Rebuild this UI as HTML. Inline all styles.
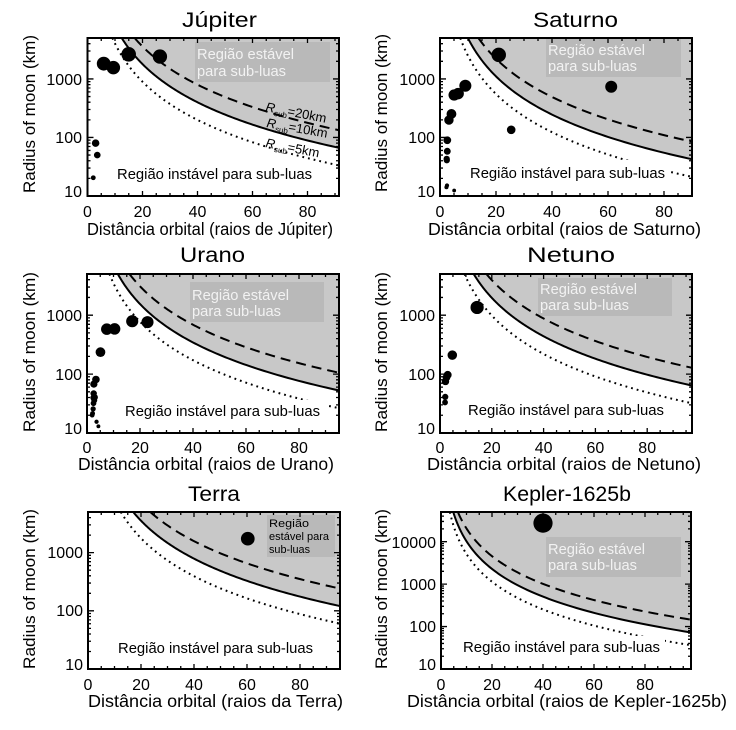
<!DOCTYPE html>
<html><head><meta charset="utf-8">
<style>
html,body{margin:0;padding:0;background:#fff;}
svg{display:block;}
text{font-family:"Liberation Sans",Arial,sans-serif;fill:#000;}
.bx{fill:#f2f2f2;font-size:15px;}
.lo{font-size:15px;}
.tk{font-size:16px;}
.tt{font-size:21px;}
.xl{font-size:17.5px;}
.yl{font-size:17px;}
</style></head>
<body>
<svg id="s" width="736" height="730" viewBox="0 0 736 730" xmlns="http://www.w3.org/2000/svg">
<rect width="736" height="730" fill="#fff"/>
<defs id="defs"></defs>

<!-- ===== Panel 0: Jupiter ===== -->
<g id="u0"></g>
<rect x="195" y="42" width="135" height="40" fill="#b9b9b9"/>
<text class="bx" x="197" y="59" textLength="97" lengthAdjust="spacingAndGlyphs">Região estável</text>
<text class="bx" x="197" y="76" textLength="89" lengthAdjust="spacingAndGlyphs">para sub-luas</text>
<g id="c0"></g>
<rect x="113" y="164" width="204" height="21" fill="#fff"/>
<text class="lo" x="117" y="179" textLength="195" lengthAdjust="spacingAndGlyphs">Região instável para sub-luas</text>
<text font-size="13" transform="translate(265,111) rotate(11)"><tspan font-style="italic">R</tspan><tspan font-size="8" dy="3">sub</tspan><tspan dy="-3">=20km</tspan></text>
<text font-size="13" transform="translate(266,127) rotate(10)"><tspan font-style="italic">R</tspan><tspan font-size="8" dy="3">sub</tspan><tspan dy="-3">=10km</tspan></text>
<text font-size="13" transform="translate(265,147) rotate(11)"><tspan font-style="italic">R</tspan><tspan font-size="8" dy="3">sub</tspan><tspan dy="-3">=5km</tspan></text>
<g id="f0"></g>
<text class="tk" x="82" y="85" text-anchor="end">1000</text>
<text class="tk" x="82" y="143" text-anchor="end">100</text>
<text class="tk" x="82" y="197" text-anchor="end">10</text>
<text class="tk" x="87.5" y="217" text-anchor="middle">0</text>
<text class="tk" x="142.5" y="217" text-anchor="middle">20</text>
<text class="tk" x="197.5" y="217" text-anchor="middle">40</text>
<text class="tk" x="252.5" y="217" text-anchor="middle">60</text>
<text class="tk" x="307.5" y="217" text-anchor="middle">80</text>
<text class="tt" x="182" y="27" textLength="75" lengthAdjust="spacingAndGlyphs">Júpiter</text>
<text class="yl" transform="translate(35,114) rotate(-90)" text-anchor="middle" textLength="158" lengthAdjust="spacingAndGlyphs">Radius of moon (km)</text>
<text class="xl" x="87" y="235" textLength="246" lengthAdjust="spacingAndGlyphs">Distância orbital (raios de Júpiter)</text>

<!-- ===== Panel 1: Saturno ===== -->
<g id="u1"></g>
<rect x="546" y="39" width="135" height="38" fill="#b9b9b9"/>
<text class="bx" x="548" y="55" textLength="97" lengthAdjust="spacingAndGlyphs">Região estável</text>
<text class="bx" x="548" y="71" textLength="89" lengthAdjust="spacingAndGlyphs">para sub-luas</text>
<g id="c1"></g>
<rect x="466" y="160" width="202" height="24" fill="#fff"/>
<text class="lo" x="470" y="178" textLength="195" lengthAdjust="spacingAndGlyphs">Região instável para sub-luas</text>
<g id="f1"></g>
<text class="tk" x="435" y="85" text-anchor="end">1000</text>
<text class="tk" x="435" y="143" text-anchor="end">100</text>
<text class="tk" x="435" y="197" text-anchor="end">10</text>
<text class="tk" x="440" y="217" text-anchor="middle">0</text>
<text class="tk" x="496" y="217" text-anchor="middle">20</text>
<text class="tk" x="552" y="217" text-anchor="middle">40</text>
<text class="tk" x="608" y="217" text-anchor="middle">60</text>
<text class="tk" x="664" y="217" text-anchor="middle">80</text>
<text class="tt" x="533" y="27" textLength="85" lengthAdjust="spacingAndGlyphs">Saturno</text>
<text class="yl" transform="translate(387,113) rotate(-90)" text-anchor="middle" textLength="158" lengthAdjust="spacingAndGlyphs">Radius of moon (km)</text>
<text class="xl" x="428" y="235" textLength="273" lengthAdjust="spacingAndGlyphs">Distância orbital (raios de Saturno)</text>

<!-- ===== Panel 2: Urano ===== -->
<g id="u2"></g>
<rect x="190" y="282" width="134" height="40" fill="#b9b9b9"/>
<text class="bx" x="192" y="300" textLength="97" lengthAdjust="spacingAndGlyphs">Região estável</text>
<text class="bx" x="192" y="316" textLength="89" lengthAdjust="spacingAndGlyphs">para sub-luas</text>
<g id="c2"></g>
<rect x="121" y="400" width="208" height="22" fill="#fff"/>
<text class="lo" x="125" y="416" textLength="195" lengthAdjust="spacingAndGlyphs">Região instável para sub-luas</text>
<g id="f2"></g>
<text class="tk" x="82" y="321" text-anchor="end">1000</text>
<text class="tk" x="82" y="380" text-anchor="end">100</text>
<text class="tk" x="82" y="434" text-anchor="end">10</text>
<text class="tk" x="87" y="453" text-anchor="middle">0</text>
<text class="tk" x="140" y="453" text-anchor="middle">20</text>
<text class="tk" x="193" y="453" text-anchor="middle">40</text>
<text class="tk" x="246" y="453" text-anchor="middle">60</text>
<text class="tk" x="299" y="453" text-anchor="middle">80</text>
<text class="tt" x="180" y="262" textLength="65" lengthAdjust="spacingAndGlyphs">Urano</text>
<text class="yl" transform="translate(35,352) rotate(-90)" text-anchor="middle" textLength="160" lengthAdjust="spacingAndGlyphs">Radius of moon (km)</text>
<text class="xl" x="78" y="470" textLength="256" lengthAdjust="spacingAndGlyphs">Distância orbital (raios de Urano)</text>

<!-- ===== Panel 3: Netuno ===== -->
<g id="u3"></g>
<rect x="538" y="278" width="134" height="38" fill="#b9b9b9"/>
<text class="bx" x="540" y="294" textLength="97" lengthAdjust="spacingAndGlyphs">Região estável</text>
<text class="bx" x="540" y="310" textLength="89" lengthAdjust="spacingAndGlyphs">para sub-luas</text>
<g id="c3"></g>
<rect x="464" y="399" width="206" height="22" fill="#fff"/>
<text class="lo" x="468" y="415" textLength="196" lengthAdjust="spacingAndGlyphs">Região instável para sub-luas</text>
<g id="f3"></g>
<text class="tk" x="435" y="321" text-anchor="end">1000</text>
<text class="tk" x="435" y="380" text-anchor="end">100</text>
<text class="tk" x="435" y="434" text-anchor="end">10</text>
<text class="tk" x="440" y="453" text-anchor="middle">0</text>
<text class="tk" x="491.8" y="453" text-anchor="middle">20</text>
<text class="tk" x="543.6" y="453" text-anchor="middle">40</text>
<text class="tk" x="595.4" y="453" text-anchor="middle">60</text>
<text class="tk" x="647.2" y="453" text-anchor="middle">80</text>
<text class="tt" x="527" y="262" textLength="88" lengthAdjust="spacingAndGlyphs">Netuno</text>
<text class="yl" transform="translate(387,352) rotate(-90)" text-anchor="middle" textLength="160" lengthAdjust="spacingAndGlyphs">Radius of moon (km)</text>
<text class="xl" x="427" y="470" textLength="274" lengthAdjust="spacingAndGlyphs">Distância orbital (raios de Netuno)</text>

<!-- ===== Panel 4: Terra ===== -->
<g id="u4"></g>
<rect x="267" y="515" width="68" height="42" fill="#b9b9b9"/>
<text fill="#f2f2f2" font-size="11" x="269" y="527" textLength="40" lengthAdjust="spacingAndGlyphs">Região</text>
<text fill="#f2f2f2" font-size="11" x="269" y="540" textLength="60" lengthAdjust="spacingAndGlyphs">estável para</text>
<text fill="#f2f2f2" font-size="11" x="269" y="553" textLength="41" lengthAdjust="spacingAndGlyphs">sub-luas</text>
<g id="c4"></g>
<rect x="114" y="637" width="204" height="22" fill="#fff"/>
<text class="lo" x="118" y="653" textLength="195" lengthAdjust="spacingAndGlyphs">Região instável para sub-luas</text>
<g id="f4"></g>
<text class="tk" x="83" y="558" text-anchor="end">1000</text>
<text class="tk" x="83" y="616" text-anchor="end">100</text>
<text class="tk" x="83" y="670" text-anchor="end">10</text>
<text class="tk" x="88" y="690" text-anchor="middle">0</text>
<text class="tk" x="141" y="690" text-anchor="middle">20</text>
<text class="tk" x="194" y="690" text-anchor="middle">40</text>
<text class="tk" x="247" y="690" text-anchor="middle">60</text>
<text class="tk" x="300" y="690" text-anchor="middle">80</text>
<text class="tt" x="188" y="501" textLength="52" lengthAdjust="spacingAndGlyphs">Terra</text>
<text class="yl" transform="translate(35,589) rotate(-90)" text-anchor="middle" textLength="160" lengthAdjust="spacingAndGlyphs">Radius of moon (km)</text>
<text class="xl" x="88" y="707" textLength="255" lengthAdjust="spacingAndGlyphs">Distância orbital (raios da Terra)</text>

<!-- ===== Panel 5: Kepler-1625b ===== -->
<g id="u5"></g>
<rect x="546" y="537" width="135" height="40" fill="#b9b9b9"/>
<text class="bx" x="548" y="554" textLength="97" lengthAdjust="spacingAndGlyphs">Região estável</text>
<text class="bx" x="548" y="570" textLength="89" lengthAdjust="spacingAndGlyphs">para sub-luas</text>
<g id="c5"></g>
<rect x="459" y="636" width="206" height="22" fill="#fff"/>
<text class="lo" x="463" y="652" textLength="197" lengthAdjust="spacingAndGlyphs">Região instável para sub-luas</text>
<g id="f5"></g>
<text class="tk" x="436" y="548" text-anchor="end">10000</text>
<text class="tk" x="436" y="590" text-anchor="end">1000</text>
<text class="tk" x="436" y="632" text-anchor="end">100</text>
<text class="tk" x="436" y="670" text-anchor="end">10</text>
<text class="tk" x="441" y="690" text-anchor="middle">0</text>
<text class="tk" x="492" y="690" text-anchor="middle">20</text>
<text class="tk" x="543" y="690" text-anchor="middle">40</text>
<text class="tk" x="594" y="690" text-anchor="middle">60</text>
<text class="tk" x="645" y="690" text-anchor="middle">80</text>
<text class="tt" x="503" y="501" textLength="128" lengthAdjust="spacingAndGlyphs">Kepler-1625b</text>
<text class="yl" transform="translate(387,589) rotate(-90)" text-anchor="middle" textLength="160" lengthAdjust="spacingAndGlyphs">Radius of moon (km)</text>
<text class="xl" x="407" y="707" textLength="320" lengthAdjust="spacingAndGlyphs">Distância orbital (raios de Kepler-1625b)</text>
</svg>

<script>
(function(){
var NS="http://www.w3.org/2000/svg";
function el(tag,attrs,parent){var e=document.createElementNS(NS,tag);for(var k in attrs)e.setAttribute(k,attrs[k]);parent.appendChild(e);return e;}
var K=13/6;
var P=[
{L:87.5,R:339,T:38,B:196,x0:87.5,sx:2.75,ymax:5000,lc:6.072,pts:[[2.1,20.5],[2.95,80],[3.55,50],[5.9,1821.6],[9.4,1560.8],[14.97,2634],[26.33,2410]]},
{L:440,R:692,T:38,B:196,x0:440,sx:2.8,ymax:5000,lc:5.862,pts:[[2.3,14.1],[2.5,15.1],[2.39,43.1],[2.43,40.7],[2.6,58.1],[2.6,89.5],[3.19,198.2],[4.09,252.1],[5.06,531.1],[5.06,12.4],[6.48,561.4],[9.05,763.8],[20.98,2574.7],[25.43,135],[61.15,734.5]]},
{L:87,R:339,T:274,B:433,x0:87,sx:2.65,ymax:5000,lc:6.008,pts:[[1.95,20.1],[2.1,21.4],[2.32,25.7],[2.42,39.8],[2.45,32],[2.52,46.8],[2.59,67.6],[2.74,36],[2.95,40.3],[3.6,15.5],[3.37,81],[4.3,13],[5.08,235.8],[7.47,578.9],[10.42,584.7],[17.06,788.9],[22.83,761.4]]},
{L:440,R:692,T:274,B:433,x0:440,sx:2.59,ymax:5000,lc:6.113,pts:[[1.95,33],[2.02,41],[2.12,75],[2.5,88],[2.97,97],[4.75,210],[14.33,1353]]},
{L:88,R:340,T:512,B:669,x0:88,sx:2.65,ymax:5000,lc:6.368,pts:[[60.3,1737]]},
{L:441,R:691,T:512,B:669,x0:441,sx:2.55,ymax:50000,lc:6.176,pts:[[40,27300]]}
];
var defs=document.getElementById("defs");
P.forEach(function(p,i){
  var D=(p.B-p.T)/Math.log10(p.ymax/10);
  var X=function(v){return p.x0+v*p.sx;};
  var Y=function(v){return p.B-(Math.log10(v)-1)*D;};
  var xmax=(p.R-p.x0)/p.sx;
  var cp=el("clipPath",{id:"cp"+i},defs);
  el("rect",{x:p.L,y:p.T,width:p.R-p.L,height:p.B-p.T},cp);
  function curve(f){
    var xt=Math.pow(10,(p.lc+Math.log10(f)-Math.log10(p.ymax))/K);
    var a=[];var n=120;var xe=xmax*1.02;
    for(var j=0;j<=n;j++){
      var x=xt*Math.pow(xe/xt,j/n);
      var v=f*Math.pow(10,p.lc-K*Math.log10(x));
      a.push([X(x),Y(v)]);
    }
    return a;
  }
  function toPath(a){return "M"+a.map(function(q){return q[0].toFixed(2)+","+q[1].toFixed(2);}).join(" L");}
  var u=document.getElementById("u"+i);
  var c=document.getElementById("c"+i);
  var f=document.getElementById("f"+i);
  // fill
  var s=curve(1);
  var last=s[s.length-1];
  var d=toPath(s)+" L"+(p.R+5)+","+last[1].toFixed(2)+" L"+(p.R+5)+","+(p.T-5)+" L"+s[0][0].toFixed(2)+","+(p.T-5)+" Z";
  el("path",{d:d,fill:"#c8c8c8","clip-path":"url(#cp"+i+")"},u);
  // curves
  el("path",{d:toPath(curve(1)),fill:"none",stroke:"#000","stroke-width":2,"clip-path":"url(#cp"+i+")"},c);
  el("path",{d:toPath(curve(2)),fill:"none",stroke:"#000","stroke-width":2,"stroke-dasharray":"10 6","clip-path":"url(#cp"+i+")"},c);
  el("path",{d:toPath(curve(0.5)),fill:"none",stroke:"#000","stroke-width":2,"stroke-dasharray":"1.8 4","clip-path":"url(#cp"+i+")"},c);
  // points
  p.pts.forEach(function(q){
    if(q[1]<10)return;
    var r=2.3*Math.log10(q[1])-0.6;
    el("circle",{cx:X(q[0]).toFixed(2),cy:Y(q[1]).toFixed(2),r:r.toFixed(2),fill:"#000","clip-path":"url(#cp"+i+")"},c);
  });
  // frame
  el("rect",{x:p.L,y:p.T,width:p.R-p.L,height:p.B-p.T,fill:"none",stroke:"#000","stroke-width":2},f);
  var tk="";
  // y ticks
  for(var dec=10;dec<=p.ymax;dec*=10){
    for(var m=1;m<=9;m++){
      var v=m*dec;if(v>p.ymax*1.001)break;
      var y=Y(v);var len=(m==1)?6:3;
      tk+="M"+p.L+","+y.toFixed(2)+" h"+len+" M"+p.R+","+y.toFixed(2)+" h"+(-len)+" ";
    }
  }
  // x ticks
  for(var xv=0;xv<=xmax+0.01;xv+=5){
    var x=X(xv);var len2=(xv%20==0)?5:3;
    tk+="M"+x.toFixed(2)+","+p.B+" v"+(-len2)+" M"+x.toFixed(2)+","+p.T+" v"+len2+" ";
  }
  el("path",{d:tk,fill:"none",stroke:"#000","stroke-width":1.3},f);
});
})();
</script>
</body></html>
